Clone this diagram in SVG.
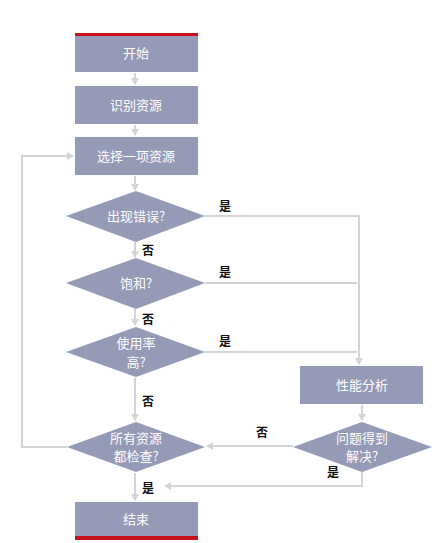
<svg xmlns="http://www.w3.org/2000/svg" width="445" height="543" viewBox="0 0 445 543">
<style>
.box{fill:#959ab7}
.red{fill:#c8101e}
.t{font-family:"Noto Sans CJK SC","Noto Sans",sans-serif;font-size:13px;fill:#ffffff;text-anchor:middle}
.lbl{font-family:"Noto Sans CJK SC","Noto Sans",sans-serif;font-size:12px;fill:#111111;font-weight:bold;text-anchor:middle}
.c{fill:none;stroke:#d4d4d4;stroke-width:2}
</style>
<defs>
<marker id="ah" markerWidth="8" markerHeight="8" refX="6" refY="4" orient="auto" markerUnits="userSpaceOnUse">
<path d="M0,0 L7,4 L0,8 z" fill="#d4d4d4"/>
</marker>
</defs>
<rect width="445" height="543" fill="#ffffff"/>
<g id="connectors">
<path class="c" d="M135,73 V84" marker-end="url(#ah)"/>
<path class="c" d="M135,125 V135" marker-end="url(#ah)"/>
<path class="c" d="M135,176 V190" marker-end="url(#ah)"/>
<path class="c" d="M135,242 V257" marker-end="url(#ah)"/>
<path class="c" d="M135,309 V325" marker-end="url(#ah)"/>
<path class="c" d="M135,378 V420" marker-end="url(#ah)"/>
<path class="c" d="M135,473 V500" marker-end="url(#ah)"/>
<path class="c" d="M205,216 H359 V364" marker-end="url(#ah)"/>
<path class="c" d="M205,283 H357"/>
<path class="c" d="M205,352 H357"/>
<path class="c" d="M67,447 H22 V156 H73" marker-end="url(#ah)"/>
<path class="c" d="M362,405 V420" marker-end="url(#ah)"/>
<path class="c" d="M293,446 H207" marker-end="url(#ah)"/>
<path class="c" d="M362,472 V486 H165" marker-end="url(#ah)"/>
</g>
<g id="start">
<rect class="box" x="75" y="33" width="123" height="39"/>
<rect class="red" x="75" y="33" width="123" height="3"/>
<text class="t" x="136" y="58">开始</text>
</g>
<g id="identify">
<rect class="box" x="75" y="86" width="123" height="38"/>
<text class="t" x="136" y="110">识别资源</text>
</g>
<g id="select">
<rect class="box" x="75" y="137" width="123" height="38"/>
<text class="t" x="136" y="161">选择一项资源</text>
</g>
<g id="error">
<polygon class="box" points="136,191 205,216 136,242 66,216"/>
<text class="t" x="136" y="221">出现错误?</text>
</g>
<g id="saturated">
<polygon class="box" points="136,258 205,283 136,309 66,283"/>
<text class="t" x="136" y="288">饱和?</text>
</g>
<g id="usage">
<polygon class="box" points="136,327 205,352 136,377 66,352"/>
<text class="t" x="136" y="348">使用率</text>
<text class="t" x="136" y="367">高?</text>
</g>
<g id="allchecked">
<polygon class="box" points="136,422 205,447 136,472 67,447"/>
<text class="t" x="136" y="443">所有资源</text>
<text class="t" x="136" y="461">都检查?</text>
</g>
<g id="end">
<rect class="box" x="75" y="502" width="123" height="35"/>
<rect class="red" x="75" y="536" width="123" height="4"/>
<text class="t" x="136" y="524">结束</text>
</g>
<g id="perf">
<rect class="box" x="300" y="366" width="123" height="38"/>
<text class="t" x="362" y="390">性能分析</text>
</g>
<g id="solved">
<polygon class="box" points="362,422 432,447 362,472 293,447"/>
<text class="t" x="362" y="443">问题得到</text>
<text class="t" x="362" y="461">解决?</text>
</g>
<g id="labels">
<text class="lbl" x="225" y="211">是</text>
<text class="lbl" x="225" y="277">是</text>
<text class="lbl" x="225" y="346">是</text>
<text class="lbl" x="148" y="255">否</text>
<text class="lbl" x="148" y="324">否</text>
<text class="lbl" x="148" y="406">否</text>
<text class="lbl" x="262" y="437">否</text>
<text class="lbl" x="333" y="477">是</text>
<text class="lbl" x="148" y="493">是</text>
</g>
</svg>
